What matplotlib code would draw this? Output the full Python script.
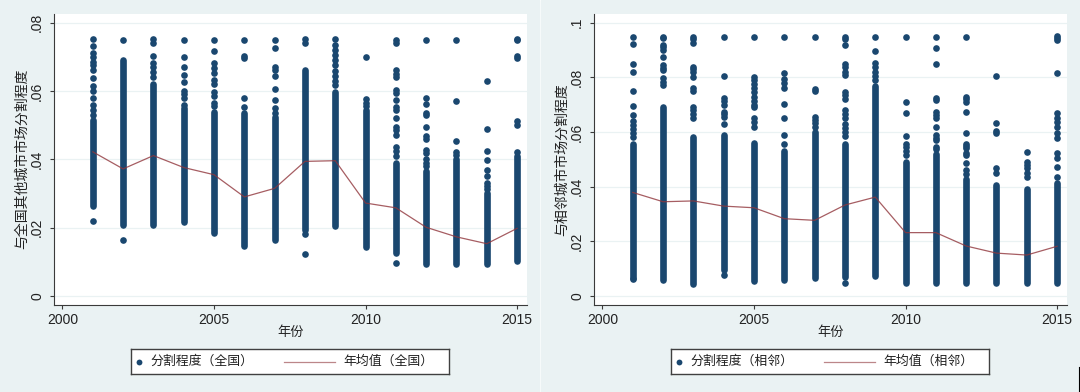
import numpy as np
import matplotlib.pyplot as plt
from matplotlib.patches import Rectangle
from matplotlib.lines import Line2D

# 字體：英文用 Liberation Sans，中文退回 Noto Sans CJK SC
plt.rcParams['font.family'] = ['Liberation Sans', 'Noto Sans CJK SC']
plt.rcParams['axes.unicode_minus'] = False

NAVY = '#1A476F'
MAROON = '#90353B'
BG = '#EAF2F3'

years = list(range(2001, 2016))

# ---- 左圖：与全国其他城市 ----
nat_mean = [0.0422, 0.0372, 0.0411, 0.0376, 0.0355, 0.0290, 0.0315, 0.0394,
            0.0396, 0.0272, 0.0258, 0.0201, 0.0173, 0.0153, 0.0198]
# 每年密集點的範圍（下限、上限）
nat_lo = [0.0262, 0.0208, 0.0208, 0.0218, 0.0185, 0.0145, 0.0164, 0.0193,
          0.0205, 0.0142, 0.0125, 0.0093, 0.0093, 0.0093, 0.0102]
nat_hi = [0.0515, 0.0690, 0.0622, 0.0549, 0.0540, 0.0535, 0.0525, 0.0663,
          0.0598, 0.0545, 0.0390, 0.0367, 0.0400, 0.0300, 0.0410]
# 密集範圍以外的零散點
nat_out = [
    [0.0220, 0.0530, 0.0545, 0.0558, 0.0579, 0.0600, 0.0615, 0.0637, 0.0663,
     0.0676, 0.0686, 0.0700, 0.0710, 0.0732, 0.0751],
    [0.0164, 0.0749],
    [0.0642, 0.0655, 0.0670, 0.0681, 0.0702, 0.0742, 0.0751],
    [0.0560, 0.0579, 0.0590, 0.0601, 0.0627, 0.0647, 0.0671, 0.0700, 0.0749],
    [0.0555, 0.0565, 0.0585, 0.0598, 0.0620, 0.0632, 0.0652, 0.0668, 0.0681,
     0.0718, 0.0749],
    [0.0554, 0.0581, 0.0696, 0.0703, 0.0749],
    [0.0537, 0.0550, 0.0574, 0.0605, 0.0645, 0.0662, 0.0671, 0.0727, 0.0749],
    [0.0122, 0.0181, 0.0742, 0.0751],
    [0.0618, 0.0630, 0.0645, 0.0660, 0.0675, 0.0690, 0.0705, 0.0720, 0.0735,
     0.0751],
    [0.0556, 0.0566, 0.0577, 0.0700],
    [0.0096, 0.0410, 0.0425, 0.0437, 0.0470, 0.0485, 0.0496, 0.0520, 0.0545,
     0.0554, 0.0574, 0.0595, 0.0603, 0.0642, 0.0650, 0.0661, 0.0742, 0.0749],
    [0.0380, 0.0390, 0.0400, 0.0420, 0.0427, 0.0460, 0.0468, 0.0494, 0.0529,
     0.0536, 0.0561, 0.0581, 0.0749],
    [0.0412, 0.0422, 0.0454, 0.0571, 0.0749],
    [0.0312, 0.0322, 0.0330, 0.0350, 0.0369, 0.0398, 0.0425, 0.0488, 0.0630],
    [0.0422, 0.0500, 0.0512, 0.0698, 0.0702, 0.0748, 0.0751],
]

# ---- 右圖：与相邻城市 ----
adj_mean = [0.0379, 0.0345, 0.0348, 0.0329, 0.0323, 0.0283, 0.0277, 0.0333,
            0.0362, 0.0232, 0.0232, 0.0183, 0.0157, 0.0150, 0.0182]
adj_lo = [0.0065, 0.0060, 0.0045, 0.0095, 0.0055, 0.0060, 0.0065, 0.0070,
          0.0072, 0.0048, 0.0048, 0.0048, 0.0048, 0.0048, 0.0048]
adj_hi = [0.0555, 0.0690, 0.0583, 0.0590, 0.0560, 0.0530, 0.0600, 0.0555,
          0.0770, 0.0490, 0.0520, 0.0430, 0.0405, 0.0390, 0.0415]
adj_out = [
    [0.0061, 0.0582, 0.0595, 0.0610, 0.0625, 0.0640, 0.0662, 0.0695, 0.0750,
     0.0821, 0.0848, 0.0924, 0.0949],
    [0.0772, 0.0785, 0.0796, 0.0827, 0.0835, 0.0845, 0.0876, 0.0900, 0.0910,
     0.0918, 0.0943, 0.0949],
    [0.0650, 0.0665, 0.0680, 0.0693, 0.0750, 0.0760, 0.0800, 0.0821, 0.0830,
     0.0839, 0.0925, 0.0940, 0.0949],
    [0.0076, 0.0628, 0.0656, 0.0665, 0.0674, 0.0700, 0.0712, 0.0723, 0.0805,
     0.0949],
    [0.0620, 0.0635, 0.0650, 0.0690, 0.0700, 0.0715, 0.0730, 0.0745, 0.0760,
     0.0775, 0.0790, 0.0802, 0.0949],
    [0.0555, 0.0591, 0.0652, 0.0702, 0.0760, 0.0780, 0.0793, 0.0817, 0.0949],
    [0.0620, 0.0632, 0.0645, 0.0656, 0.0750, 0.0757, 0.0949],
    [0.0049, 0.0585, 0.0600, 0.0615, 0.0630, 0.0650, 0.0665, 0.0680, 0.0722,
     0.0735, 0.0745, 0.0810, 0.0820, 0.0838, 0.0850, 0.0920, 0.0940, 0.0949],
    [0.0790, 0.0805, 0.0820, 0.0838, 0.0852, 0.0898, 0.0949],
    [0.0515, 0.0530, 0.0545, 0.0555, 0.0585, 0.0668, 0.0711, 0.0949],
    [0.0538, 0.0546, 0.0570, 0.0580, 0.0590, 0.0620, 0.0650, 0.0662, 0.0674,
     0.0716, 0.0723, 0.0849, 0.0908, 0.0949],
    [0.0445, 0.0462, 0.0485, 0.0515, 0.0525, 0.0540, 0.0548, 0.0556, 0.0598,
     0.0674, 0.0710, 0.0720, 0.0730, 0.0949],
    [0.0449, 0.0467, 0.0598, 0.0605, 0.0632, 0.0805],
    [0.0437, 0.0449, 0.0470, 0.0480, 0.0491, 0.0528],
    [0.0437, 0.0473, 0.0504, 0.0522, 0.0577, 0.0598, 0.0620, 0.0635, 0.0650,
     0.0668, 0.0817, 0.0937, 0.0945, 0.0951],
]

nat_ticks = [0, 0.02, 0.04, 0.06, 0.08]
nat_ticklabels = ['0', '.02', '.04', '.06', '.08']
adj_ticks = [0, 0.02, 0.04, 0.06, 0.08, 0.1]
adj_ticklabels = ['0', '.02', '.04', '.06', '.08', '.1']
x_ticks = [2000, 2005, 2010, 2015]

panels = [
    dict(mean=nat_mean, lo=nat_lo, hi=nat_hi, out=nat_out, ticks=nat_ticks,
         ticklabels=nat_ticklabels, ylim=(-0.0025, 0.08255),
         ylabel='与全国其他城市市场分割程度',
         leg_dot='分割程度（全国）', leg_line='年均值（全国）'),
    dict(mean=adj_mean, lo=adj_lo, hi=adj_hi, out=adj_out, ticks=adj_ticks,
         ticklabels=adj_ticklabels, ylim=(-0.0031, 0.1032),
         ylabel='与相邻城市市场分割程度',
         leg_dot='分割程度（相邻）', leg_line='年均值（相邻）'),
]

W, H = 1080, 392
fig = plt.figure(figsize=(W / 100, H / 100), dpi=100, facecolor='white')

DOT_PT = 4.8  # 點的直徑（pt）

for i, p in enumerate(panels):
    off = i * 540
    # 面板背景
    fig.patches.append(Rectangle(((off + (1 if i else 0)) / W, 0), 539 / W, 1,
                                 transform=fig.transFigure, color=BG, zorder=-10))

    ax = fig.add_axes([(off + 54) / W, (H - 304.5) / H, 472.5 / W, 290.5 / H])
    ax.set_facecolor('white')

    # 密集的點：用圓頭粗線段表示
    ax.vlines(years, p['lo'], p['hi'], colors=NAVY, linewidth=DOT_PT,
              capstyle='round', zorder=3)
    xs = np.repeat(years, [len(o) for o in p['out']])
    ys = np.concatenate(p['out'])
    ax.scatter(xs, ys, s=DOT_PT ** 2, color=NAVY, linewidths=0, zorder=3)
    # 年均值
    ax.plot(years, p['mean'], color=MAROON, lw=0.9, alpha=0.8, zorder=4)

    ax.set_xlim(1999.72, 2015.31)
    ax.set_ylim(*p['ylim'])
    ax.set_xticks(x_ticks)
    ax.set_xticklabels([str(t) for t in x_ticks], fontsize=10)
    ax.set_yticks(p['ticks'])
    ax.set_yticklabels(p['ticklabels'], fontsize=10, rotation=90, va='center')
    ax.grid(axis='y', color=BG, lw=0.9, zorder=0)
    ax.set_axisbelow(True)

    for s in ['top', 'right']:
        ax.spines[s].set_visible(False)
    for s in ['left', 'bottom']:
        ax.spines[s].set_color('#3a3a3a')
        ax.spines[s].set_linewidth(0.8)
    ax.tick_params(axis='both', length=3.2, width=0.8, color='#3a3a3a',
                   labelcolor='#222222')
    ax.tick_params(axis='x', pad=3)
    ax.tick_params(axis='y', pad=4)

    ax.set_ylabel(p['ylabel'], fontsize=10, color='#222222', va='center')
    ax.yaxis.set_label_coords(-0.068, 0.5)
    ax.set_xlabel('年份', fontsize=9.5, color='#222222', va='center')
    ax.xaxis.set_label_coords(0.5, -0.098)

    # 圖例（手動畫在一個小框裡）
    lax = fig.add_axes([(off + 130.5) / W, (H - 374) / H, 318.5 / W, 25 / H])
    lax.set_xlim(0, 1)
    lax.set_ylim(0, 1)
    lax.set_xticks([])
    lax.set_yticks([])
    lax.set_facecolor('white')
    for s in lax.spines.values():
        s.set_color('#404040')
        s.set_linewidth(1.0)
    lax.plot([0.028], [0.5], 'o', color=NAVY, ms=4.2, mew=0)
    lax.text(0.063, 0.5, p['leg_dot'], fontsize=9.3, va='center', color='#222222')
    lax.add_line(Line2D([0.482, 0.642], [0.5, 0.5], color=MAROON, lw=0.9, alpha=0.6))
    lax.text(0.669, 0.5, p['leg_line'], fontsize=9.3, va='center', color='#222222')

# 右下角的小黑線
fig.add_artist(Line2D([1078.5 / W, 1078.5 / W], [0, 25 / H], color='black', lw=0.8))

fig.savefig('out.png', dpi=100, facecolor='white')
